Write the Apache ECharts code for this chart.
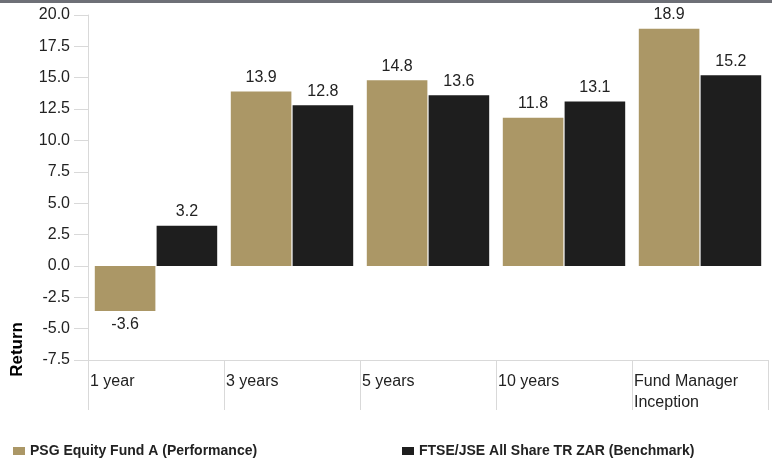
<!DOCTYPE html>
<html>
<head>
<meta charset="utf-8">
<script src="https://cdn.jsdelivr.net/npm/echarts@6/dist/echarts.min.js"></script>
<style>
html,body{margin:0;padding:0;background:#fff;}
#topbar{position:absolute;left:0;top:0;width:772px;height:3px;background:#6e7077;}
#chart{width:772px;height:462px;}
</style>
</head>
<body>
<div id="topbar"></div>
<div id="chart"></div>
<script>
var categories = ['1 year', '3 years', '5 years', '10 years', 'Fund Manager\nInception'];
var fundValues = [-3.6, 13.9, 14.8, 11.8, 18.9];
var benchValues = [3.2, 12.8, 13.6, 13.1, 15.2];
var seriesNames = ['PSG Equity Fund A (Performance)', 'FTSE/JSE All Share TR ZAR (Benchmark)'];
var yMin = -7.5, yMax = 20, yStep = 2.5;

var FONT = 'Liberation Sans';
var chart = echarts.init(document.getElementById('chart'));

function labelFor(v) {
  return {
    show: true,
    position: v < 0 ? 'bottom' : 'top',
    distance: 6,
    color: '#222',
    fontSize: 16,
    fontFamily: FONT,
    formatter: function (p) { return p.value.toFixed(1); }
  };
}

function makeData(arr) {
  return arr.map(function (v) { return { value: v, label: labelFor(v) }; });
}

chart.setOption({
  animation: false,
  textStyle: { fontFamily: FONT },
  grid: { left: 88, right: 4, top: 15, bottom: 102, containLabel: false },
  legend: [
    {
      data: [seriesNames[0]],
      left: 8, top: 439,
      itemWidth: 12, itemHeight: 8,
      icon: 'rect',
      textStyle: { fontSize: 14, fontWeight: 'bold', color: '#222', fontFamily: FONT }
    },
    {
      data: [seriesNames[1]],
      left: 397, top: 439,
      itemWidth: 12, itemHeight: 8,
      icon: 'rect',
      textStyle: { fontSize: 14, fontWeight: 'bold', color: '#222', fontFamily: FONT }
    }
  ],
  xAxis: {
    type: 'category',
    data: categories,
    position: 'bottom',
    axisLine: { show: true, onZero: false, lineStyle: { color: '#d9d9d9', width: 1 } },
    axisTick: { show: true, length: 50, alignWithLabel: false, lineStyle: { color: '#d9d9d9', width: 1 } },
    axisLabel: {
      margin: 11,
      interval: 0,
      color: '#222',
      formatter: function (v) {
        return v.split('\n').map(function (s) { return '{a|' + s + '}'; }).join('\n');
      },
      rich: {
        a: { width: 132, align: 'left', fontSize: 16, lineHeight: 21, color: '#222', fontFamily: FONT }
      }
    }
  },
  yAxis: {
    type: 'value',
    min: yMin, max: yMax, interval: yStep,
    axisLine: { show: true, lineStyle: { color: '#d9d9d9', width: 1 } },
    axisTick: { show: true, length: 14, lineStyle: { color: '#d9d9d9', width: 1 } },
    axisLabel: {
      margin: 18, color: '#222', fontSize: 16, fontFamily: FONT,
      formatter: function (v) { return v.toFixed(1); }
    },
    splitLine: { show: false }
  },
  graphic: [
    {
      type: 'text',
      left: 9, top: 322,
      rotation: Math.PI / 2,
      style: { text: 'Return', fontSize: 17, fontWeight: 'bold', fill: '#000', fontFamily: FONT }
    }
  ],
  series: [
    {
      name: seriesNames[0],
      type: 'bar',
      data: makeData(fundValues),
      itemStyle: { color: '#ab9766' },
      barGap: '2%',
      barCategoryGap: '10%'
    },
    {
      name: seriesNames[1],
      type: 'bar',
      data: makeData(benchValues),
      itemStyle: { color: '#1e1e1e' },
      barGap: '2%',
      barCategoryGap: '10%'
    }
  ]
});
</script>
</body>
</html>
